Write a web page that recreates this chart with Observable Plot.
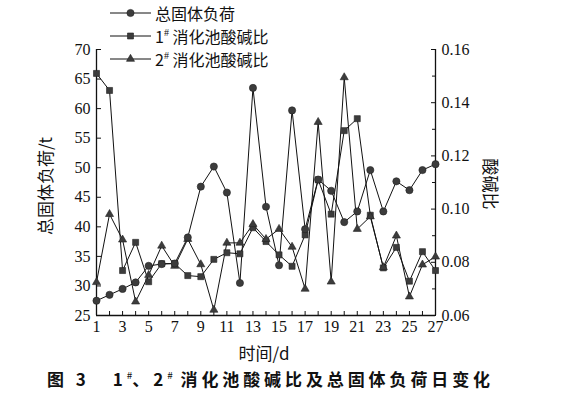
<!DOCTYPE html>
<html><head><meta charset="utf-8">
<script src="https://cdn.jsdelivr.net/npm/d3@7"></script>
<script src="https://cdn.jsdelivr.net/npm/@observablehq/plot@0.6"></script>
<style>
body{margin:0;background:#fff;}
#wrap{position:relative;width:564px;height:393px;overflow:hidden;background:#fff;}
#wrap svg.plot{position:absolute;left:0;top:0;}
.lg{position:absolute;left:110px;height:20px;display:flex;align-items:center;font-family:"Noto Sans CJK SC",sans-serif;font-size:16px;color:#111;white-space:nowrap;}
.lg svg{margin-right:3px;}
.lg sup{font-family:"Liberation Serif",serif;font-size:10px;position:relative;top:-1px;}
.ttl{position:absolute;font-family:"Noto Sans CJK SC",sans-serif;font-size:17px;color:#111;white-space:nowrap;}
#cap{position:absolute;left:47px;top:366px;font-family:"Noto Sans CJK SC",sans-serif;font-size:17px;font-weight:700;letter-spacing:3.9px;color:#111;white-space:nowrap;}
#cap sup{font-size:10px;font-weight:400;letter-spacing:0;}
</style></head><body>
<div id="wrap"></div>
<script>
// ---- data ----
const days = [1,2,3,4,5,6,7,8,9,10,11,12,13,14,15,16,17,18,19,20,21,22,23,24,25,26,27];
const totalSolidLoad = [27.5,28.5,29.5,30.6,33.4,33.7,33.8,38.2,46.8,50.2,45.8,30.5,63.5,43.4,33.5,59.7,39.6,48.0,46.1,40.8,42.6,49.6,42.6,47.7,46.2,49.6,50.6];
const ratio1 = [0.151,0.1446,0.0769,0.0875,0.0727,0.0795,0.0795,0.0750,0.0746,0.0811,0.0836,0.0832,0.0930,0.0878,0.0828,0.0785,0.0903,0.1110,0.0981,0.1295,0.1340,0.0977,0.0779,0.0856,0.0729,0.0840,0.0769];
const ratio2 = [0.0725,0.0981,0.0885,0.0652,0.0752,0.0862,0.0786,0.0887,0.0792,0.0621,0.0873,0.0873,0.0943,0.0887,0.0925,0.0858,0.0700,0.1327,0.0727,0.1495,0.0925,0.0972,0.0781,0.0900,0.0671,0.0791,0.0821];
const xTickLabels = [1,3,5,7,9,11,13,15,17,19,21,23,25,27];
const xMinorTicks = [2,4,6,8,10,12,14,16,18,20,22,24,26];
const leftTicks = [25,30,35,40,45,50,55,60,65,70];
const rightTicks = [0.06,0.08,0.10,0.12,0.14,0.16];
const rightMinorTicks = [0.07,0.09,0.11,0.13,0.15];
const seriesNames = ["总固体负荷","1# 消化池酸碱比","2# 消化池酸碱比"];

// right-axis (ratio) to left-axis (load) mapping
const leftDomain = [25,70], rightDomain = [0.06,0.16];
const toLeft = r => leftDomain[0] + (r - rightDomain[0]) / (rightDomain[1]-rightDomain[0]) * (leftDomain[1]-leftDomain[0]);
const toRight = v => rightDomain[0] + (v - leftDomain[0]) / (leftDomain[1]-leftDomain[0]) * (rightDomain[1]-rightDomain[0]);

const load = days.map((d,i)=>({day:d, v:totalSolidLoad[i]}));
const r1 = days.map((d,i)=>({day:d, v:toLeft(ratio1[i])}));
const r2 = days.map((d,i)=>({day:d, v:toLeft(ratio2[i])}));

const markFill = "#3c3c3c";
const plot = Plot.plot({
  width: 564, height: 342,
  marginLeft: 96, marginRight: 129, marginTop: 49, marginBottom: 27,
  style: {fontFamily: "'Liberation Serif', serif", fontSize: "16px", color: "#111", background: "transparent", overflow: "visible"},
  x: {domain: [1,27]},
  y: {domain: leftDomain},
  marks: [
    Plot.ruleY([25], {stroke: "#111", strokeWidth: 1.3}),
    Plot.ruleX([1], {stroke: "#111", strokeWidth: 1.3}),
    Plot.ruleX([27], {stroke: "#111", strokeWidth: 1.3}),
    Plot.axisX({ticks: xMinorTicks, tickSize: -4, tickFormat: () => "", label: null}),
    Plot.axisX({ticks: xTickLabels, tickSize: -4, tickPadding: 9, fontSize: 16, label: null}),
    Plot.axisY({ticks: leftTicks, tickSize: -5, tickPadding: 11, label: null}),
    Plot.axisY({anchor: "right", ticks: rightMinorTicks.map(toLeft), tickSize: -4, tickFormat: () => "", label: null}),
    Plot.axisY({anchor: "right", ticks: rightTicks.map(toLeft), tickSize: -5, tickPadding: 11, tickFormat: d => toRight(d).toFixed(2), label: null}),
    Plot.line(r1, {x: "day", y: "v", stroke: "#111", strokeWidth: 1}),
    Plot.line(r2, {x: "day", y: "v", stroke: "#111", strokeWidth: 1}),
    Plot.line(load, {x: "day", y: "v", stroke: "#111", strokeWidth: 1}),
    Plot.dot(r1, {x: "day", y: "v", symbol: "square", r: 3.4, fill: markFill, stroke: "#222", strokeWidth: 0.6}),
    Plot.dot(r2, {x: "day", y: "v", symbol: "triangle", r: 3.0, fill: markFill, stroke: "#222", strokeWidth: 0.6}),
    Plot.dot(load, {x: "day", y: "v", symbol: "circle", r: 3.6, fill: markFill, stroke: "#222", strokeWidth: 0.6})
  ]
});
plot.classList.add("plot");
const wrap = document.getElementById("wrap");
wrap.appendChild(plot);

// legend
function swatch(kind){
  const ns = "http://www.w3.org/2000/svg";
  const s = document.createElementNS(ns,"svg");
  s.setAttribute("width","42"); s.setAttribute("height","12");
  const l = document.createElementNS(ns,"line");
  l.setAttribute("x1","0"); l.setAttribute("x2","41"); l.setAttribute("y1","6"); l.setAttribute("y2","6");
  l.setAttribute("stroke","#111"); l.setAttribute("stroke-width","1");
  s.appendChild(l);
  const p = document.createElementNS(ns,"path");
  const sym = kind===0 ? d3.symbolCircle : kind===1 ? d3.symbolSquare : d3.symbolTriangle;
  const rr = kind===0 ? 3.6 : kind===1 ? 3.4 : 3.0;
  p.setAttribute("d", d3.symbol(sym, rr*rr*Math.PI)());
  p.setAttribute("transform","translate(20.5,6)");
  p.setAttribute("fill",markFill); p.setAttribute("stroke","#222"); p.setAttribute("stroke-width","0.6");
  s.appendChild(p);
  return s;
}
const legendTops = [3, 26, 49];
seriesNames.forEach((name,i)=>{
  const d = document.createElement("div");
  d.className = "lg";
  d.style.top = legendTops[i] + "px";
  d.appendChild(swatch(i));
  const t = document.createElement("span");
  const m = name.match(/^(\d)# (.*)$/);
  if (m) t.innerHTML = m[1] + "<sup>#</sup>&nbsp;" + m[2];
  else t.textContent = name;
  d.appendChild(t);
  wrap.appendChild(d);
});

// axis titles
const yl = document.createElement("div");
yl.className = "ttl"; yl.textContent = "总固体负荷/t";
yl.style.left = "44px"; yl.style.top = "186px";
yl.style.transform = "translate(-50%,-50%) rotate(-90deg)";
wrap.appendChild(yl);
const yr = document.createElement("div");
yr.className = "ttl"; yr.textContent = "酸碱比";
yr.style.left = "491px"; yr.style.top = "184px";
yr.style.transform = "translate(-50%,-50%) rotate(90deg)";
wrap.appendChild(yr);
const xl = document.createElement("div");
xl.className = "ttl"; xl.textContent = "时间/d";
xl.style.left = "264px"; xl.style.top = "352px";
xl.style.transform = "translate(-50%,-50%)";
wrap.appendChild(xl);
const cap = document.createElement("div");
cap.id = "cap";
cap.innerHTML = "图&nbsp;3&nbsp;&nbsp;&nbsp;1<sup>#</sup>、2<sup>#</sup>&nbsp;消化池酸碱比及总固体负荷日变化";
wrap.appendChild(cap);
</script>
</body></html>
